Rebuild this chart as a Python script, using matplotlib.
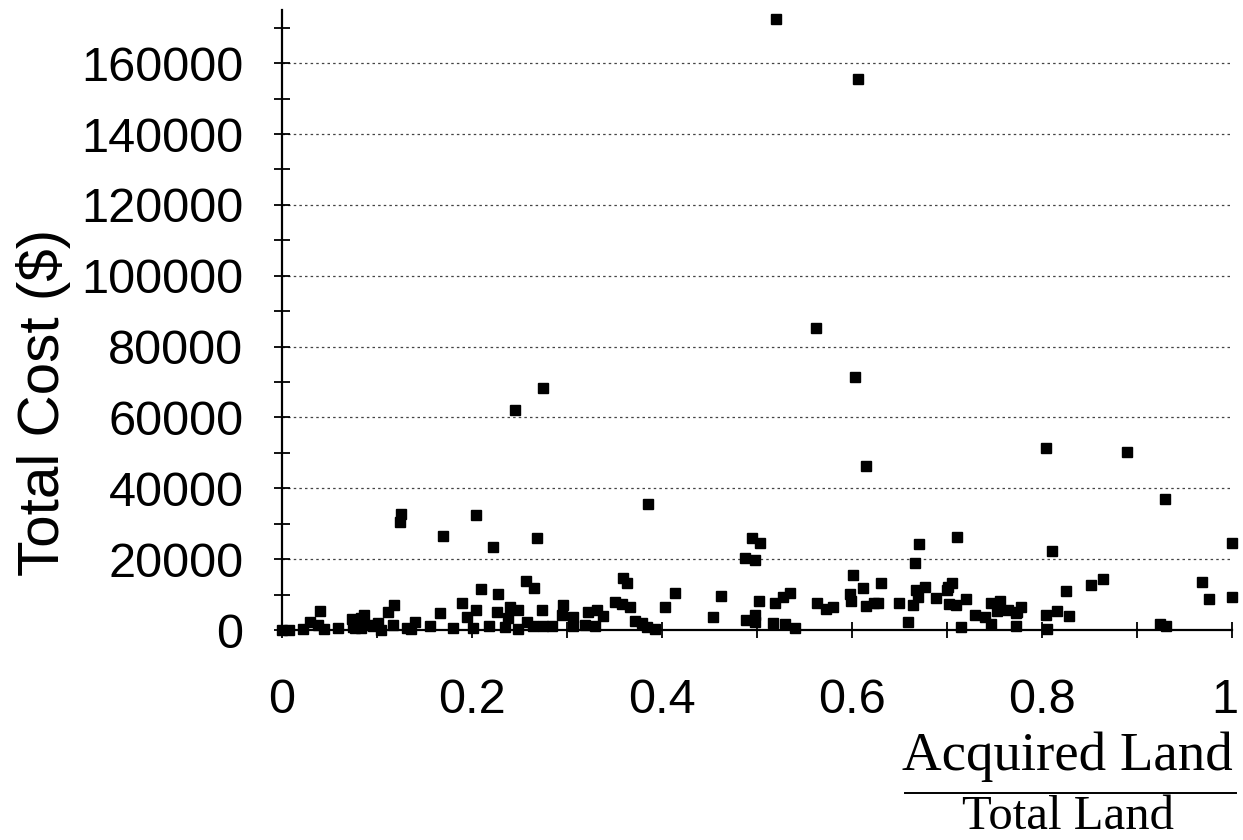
import matplotlib
matplotlib.use("Agg")
import matplotlib.pyplot as plt
import matplotlib.transforms as mtransforms
from matplotlib.ticker import MultipleLocator, FixedLocator

# ---- data ----
land_ratio = [
    0.520, 0.606, 0.562, 0.603, 0.275, 0.246, 0.615, 0.804, 0.890, 0.386,
    0.9295, 0.126, 0.1245, 0.170, 0.205, 0.222, 0.269, 0.4946, 0.503, 0.4875,
    0.498, 0.711, 0.671, 0.667, 0.811, 1.000, 0.601, 0.612, 0.631, 0.257,
    0.2655, 0.3595, 0.363, 0.4139, 0.4623, 0.4034, 0.454, 0.969, 0.976, 1.000,
    0.8253, 0.852, 0.864,
    0.000, 0.008, 0.022, 0.030, 0.038, 0.0403, 0.045, 0.0596, 0.0737, 0.075,
    0.077, 0.083, 0.084, 0.087, 0.093, 0.0964, 0.1017, 0.105, 0.112, 0.1185,
    0.117, 0.1315, 0.136, 0.140, 0.156, 0.1666, 0.1806, 0.190, 0.1947, 0.201,
    0.205, 0.2097, 0.2185, 0.227, 0.228, 0.235, 0.2385, 0.240, 0.249, 0.249,
    0.258, 0.265, 0.2736, 0.275, 0.284, 0.296, 0.2946, 0.307, 0.307, 0.3226,
    0.3315, 0.3378, 0.319, 0.3297, 0.3507, 0.3578, 0.3665, 0.3718, 0.3788, 0.384,
    0.393, 0.489, 0.498, 0.498, 0.502, 0.5167, 0.519, 0.528, 0.530, 0.535,
    0.540, 0.5636, 0.5728, 0.580, 0.598, 0.599, 0.615, 0.6236, 0.628, 0.650,
    0.6594, 0.6646, 0.6675, 0.670, 0.677, 0.6885, 0.6998, 0.7015, 0.705, 0.7025,
    0.710, 0.7145, 0.7198, 0.7296, 0.740, 0.746, 0.746, 0.753, 0.756, 0.7646,
    0.7734, 0.7776, 0.773, 0.7727, 0.804, 0.805, 0.816, 0.829, 0.924, 0.931,
]
total_cost = [
    172500, 155500, 85300, 71500, 68400, 62200, 46200, 51500, 50200, 35700,
    37000, 32700, 30500, 26560, 32400, 23470, 25830, 25830, 24500, 20370,
    19720, 26280, 24310, 18790, 22250, 24600, 15490, 11750, 13150, 13800,
    11750, 14730, 13330, 10330, 9670, 6570, 3570, 13440, 8650, 9210,
    11080, 12680, 14280,
    0, 100, 300, 2340, 1500, 5350, 300, 480, 3010, 930,
    480, 3300, 480, 4230, 1400, 1130, 1880, 0, 5150, 7040,
    1400, 480, 300, 2340, 1130, 4880, 480, 7700, 3750, 480,
    5630, 11550, 1130, 4980, 10050, 930, 3300, 6570, 5630, 200,
    2340, 1130, 5630, 1130, 1130, 7040, 4230, 3750, 1130, 5150,
    5630, 3940, 1400, 1130, 7970, 7240, 6390, 2620, 1880, 930,
    200, 2820, 4230, 2340, 8250, 2060, 7690, 9380, 1690, 10330,
    480, 7690, 5830, 6390, 10140, 8250, 6760, 7520, 7520, 7690,
    2340, 7040, 11270, 9380, 12200, 8930, 11270, 12200, 13150, 7320,
    7040, 930, 8650, 4230, 3750, 1690, 7690, 5400, 8200, 5630,
    5150, 6570, 4700, 1130, 4230, 200, 5440, 3940, 1690, 1130,
]

x_ticks = [0, 0.2, 0.4, 0.6, 0.8, 1.0]
x_tick_labels = ["0", "0.2", "0.4", "0.6", "0.8", "1"]
y_ticks = [0, 20000, 40000, 60000, 80000, 100000, 120000, 140000, 160000]
y_tick_labels = [str(v) for v in y_ticks]

# ---- figure ----
fig = plt.figure(figsize=(12.43, 8.40), dpi=100)
ax = fig.add_axes([0.2266, 0.25, 0.9911 - 0.2266, 0.988 - 0.25])

ax.plot(land_ratio, total_cost, linestyle="none", marker="s", markersize=7.4,
        color="black", clip_on=False, zorder=3)

ax.set_xlim(0, 1)
ax.set_ylim(0, 175000)

for side in ("top", "right"):
    ax.spines[side].set_visible(False)
for side in ("left", "bottom"):
    ax.spines[side].set_linewidth(1.6)
    ax.spines[side].set_color("black")

ax.set_xticks(x_ticks)
ax.set_xticklabels(x_tick_labels)
ax.xaxis.set_minor_locator(FixedLocator([0.1, 0.3, 0.5, 0.7, 0.9]))
ax.set_yticks(y_ticks)
ax.set_yticklabels(y_tick_labels)
ax.yaxis.set_minor_locator(MultipleLocator(10000))

sans = ["Liberation Sans", "DejaVu Sans"]
for lab in ax.get_xticklabels() + ax.get_yticklabels():
    lab.set_fontfamily(sans)
    lab.set_fontsize(35)

ax.tick_params(axis="both", which="both", direction="inout", length=11,
               width=1.3, color="black")
ax.tick_params(axis="x", which="major", pad=29)
ax.tick_params(axis="y", which="major", pad=22)

# keep the last x tick label ("1") inside the figure, like the reference
last = ax.get_xticklabels()[-1]
last.set_horizontalalignment("right")
last.set_transform(last.get_transform() +
                   mtransforms.ScaledTranslation(6 / 100, 0, fig.dpi_scale_trans))

ax.yaxis.grid(True, which="major", linestyle=(0, (2, 2.5)), linewidth=0.9,
              color="#444444")
ax.set_axisbelow(True)

# y-axis label
fig.text(0.035, 0.521, "Total Cost ($)", rotation=90, ha="center", va="center",
         fontsize=42, family=sans)

# x-axis label as a fraction
serif = ["Liberation Serif", "DejaVu Serif"]
fig.text(0.859, 0.099, "Acquired Land", ha="center", va="center",
         fontsize=39.5, family=serif)
fig.add_artist(plt.Line2D([0.728, 0.994], [0.056, 0.056], color="black",
                          linewidth=1.4, transform=fig.transFigure))
fig.text(0.859, 0.0131, "Total Land", ha="center", va="baseline",
         fontsize=35, family=serif)

fig.savefig("out.png", dpi=100)
